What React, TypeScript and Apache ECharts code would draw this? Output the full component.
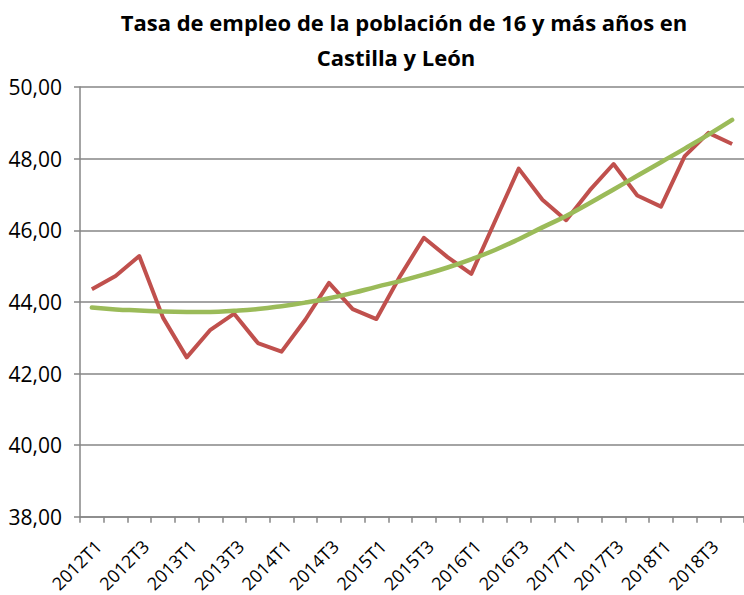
import React, { useEffect, useRef } from "react";
import * as echarts from "echarts";

const categories = [
  "2012T1", "2012T2", "2012T3", "2012T4",
  "2013T1", "2013T2", "2013T3", "2013T4",
  "2014T1", "2014T2", "2014T3", "2014T4",
  "2015T1", "2015T2", "2015T3", "2015T4",
  "2016T1", "2016T2", "2016T3", "2016T4",
  "2017T1", "2017T2", "2017T3", "2017T4",
  "2018T1", "2018T2", "2018T3", "2018T4",
];

const tasaEmpleo = [
  44.35, 44.72, 45.28, 43.56,
  42.45, 43.22, 43.67, 42.85,
  42.61, 43.5, 44.53, 43.8,
  43.52, 44.72, 45.79, 45.25,
  44.78, 46.25, 47.72, 46.85,
  46.28, 47.12, 47.85, 46.97,
  46.66, 48.07, 48.72, 48.41,
];

const tendencia = [
  43.84, 43.79, 43.76, 43.73,
  43.72, 43.72, 43.75, 43.8,
  43.88, 43.98, 44.1, 44.25,
  44.42, 44.58, 44.76, 44.96,
  45.19, 45.45, 45.75, 46.08,
  46.4, 46.76, 47.14, 47.52,
  47.9, 48.28, 48.67, 49.08,
];

const titleLine1 = "Tasa de empleo de la población de 16 y más años en";
const titleLine2 = "Castilla y León";

const FONT = "'Open Sans', 'Noto Sans', sans-serif";

export default function App() {
  const ref = useRef<HTMLDivElement>(null);
  useEffect(() => {
    document.body.style.margin = "0";
    if (!ref.current) return;
    const chart = echarts.init(ref.current, null, { renderer: "svg" });
    chart.setOption({
      animation: false,
      backgroundColor: "#ffffff",
      textStyle: { fontFamily: FONT },
      graphic: [
        {
          type: "text",
          x: 404,
          y: 22,
          style: {
            text: titleLine1,
            textAlign: "center",
            textVerticalAlign: "middle",
            fontFamily: FONT,
            fontWeight: "bold",
            fontSize: 22,
            fill: "#000000",
          },
        },
        {
          type: "text",
          x: 396,
          y: 57,
          style: {
            text: titleLine2,
            textAlign: "center",
            textVerticalAlign: "middle",
            fontFamily: FONT,
            fontWeight: "bold",
            fontSize: 22,
            fill: "#000000",
          },
        },
      ],
      grid: { left: 80, top: 87, width: 675, height: 431, containLabel: false },
      xAxis: {
        type: "category",
        data: categories,
        boundaryGap: true,
        axisLine: { show: true, lineStyle: { color: "#868686", width: 1.5 } },
        axisTick: {
          show: true,
          interval: 0,
          alignWithLabel: false,
          length: 6,
          lineStyle: { color: "#868686", width: 1.5 },
        },
        axisLabel: {
          interval: 1,
          rotate: 45,
          margin: 20,
          verticalAlign: "top",
          color: "#000000",
          fontSize: 18,
          fontFamily: FONT,
        },
        splitLine: { show: false },
      },
      yAxis: {
        type: "value",
        min: 38,
        max: 50,
        interval: 2,
        axisLine: { show: true, lineStyle: { color: "#868686", width: 1.5 } },
        axisTick: { show: true, length: 6, lineStyle: { color: "#868686", width: 1.5 } },
        axisLabel: {
          margin: 18,
          color: "#000000",
          fontSize: 21,
          fontFamily: FONT,
          formatter: (v: number) => v.toFixed(2).replace(".", ","),
        },
        splitLine: { show: true, lineStyle: { color: "#868686", width: 1.5 } },
      },
      series: [
        {
          name: "Tasa de empleo",
          type: "line",
          data: tasaEmpleo,
          symbol: "none",
          lineStyle: { color: "#C0504D", width: 4, join: "round" },
          z: 2,
        },
        {
          name: "Tendencia",
          type: "line",
          data: tendencia,
          symbol: "none",
          smooth: true,
          lineStyle: { color: "#9BBB59", width: 4.5, cap: "round" },
          z: 3,
        },
      ],
    });
    return () => chart.dispose();
  }, []);
  return <div ref={ref} style={{ width: 744, height: 595 }} />;
}
